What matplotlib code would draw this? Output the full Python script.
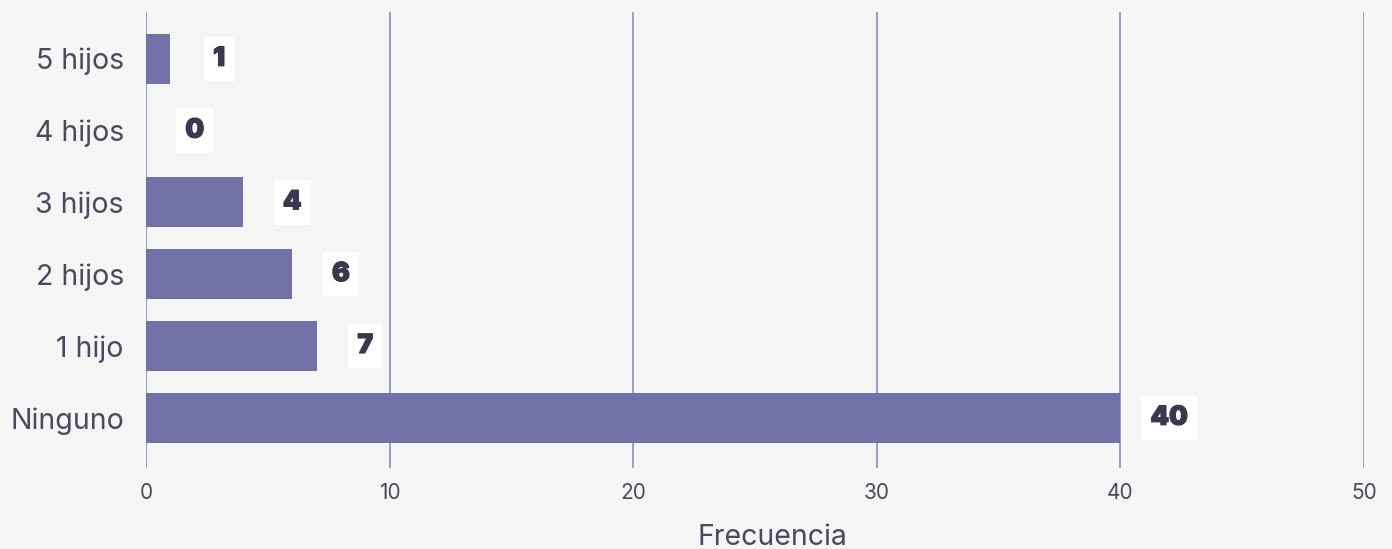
import matplotlib
matplotlib.use("Agg")
import matplotlib.pyplot as plt
import matplotlib.patheffects as pe

categories = ["Ninguno", "1 hijo", "2 hijos", "3 hijos", "4 hijos", "5 hijos"]
values = [40, 7, 6, 4, 0, 1]
xticks = [0, 10, 20, 30, 40, 50]

bg = "#f5f5f5"
bar_color = "#7272a8"
grid_color = "#8c8cc4"
text_color = "#4a4a5e"
label_color = "#3a384c"

plt.rcParams['font.family'] = ['Inter', 'DejaVu Sans']

fig = plt.figure(figsize=(13.92, 5.49), dpi=100, facecolor=bg)
ax = fig.add_axes([0.1049, 0.1475, 0.875, 0.8305])
ax.set_facecolor(bg)

ypos = list(range(len(categories)))
ax.barh(ypos, values, height=0.7, color=bar_color, zorder=2)

for y, v in zip(ypos, values):
    ax.text(v + 2, y, str(v), ha='center', va='center', fontsize=19,
            fontweight='black', color=label_color, zorder=3,
            path_effects=[pe.withStroke(linewidth=0.9, foreground=label_color)],
            bbox=dict(boxstyle='square,pad=0.35', facecolor='white', edgecolor='none'))

ax.set_xlim(0, 50)
ax.set_ylim(-0.7, 5.65)
ax.set_xticks(xticks)
ax.set_xticklabels([str(t) for t in xticks])
ax.set_yticks(ypos)
ax.set_yticklabels(categories)
ax.xaxis.grid(True, color=grid_color, linewidth=1.2, zorder=0)
ax.set_axisbelow(True)
for s in ax.spines.values():
    s.set_visible(False)
ax.tick_params(axis='x', length=0, pad=11, labelsize=15, labelcolor=text_color)
ax.tick_params(axis='y', length=0, pad=16, labelsize=20.5, labelcolor=text_color)
ax.set_xlabel("Frecuencia", fontsize=20.5, color=text_color, labelpad=15, x=0.514)

fig.savefig("out.png", dpi=100, facecolor=bg)
